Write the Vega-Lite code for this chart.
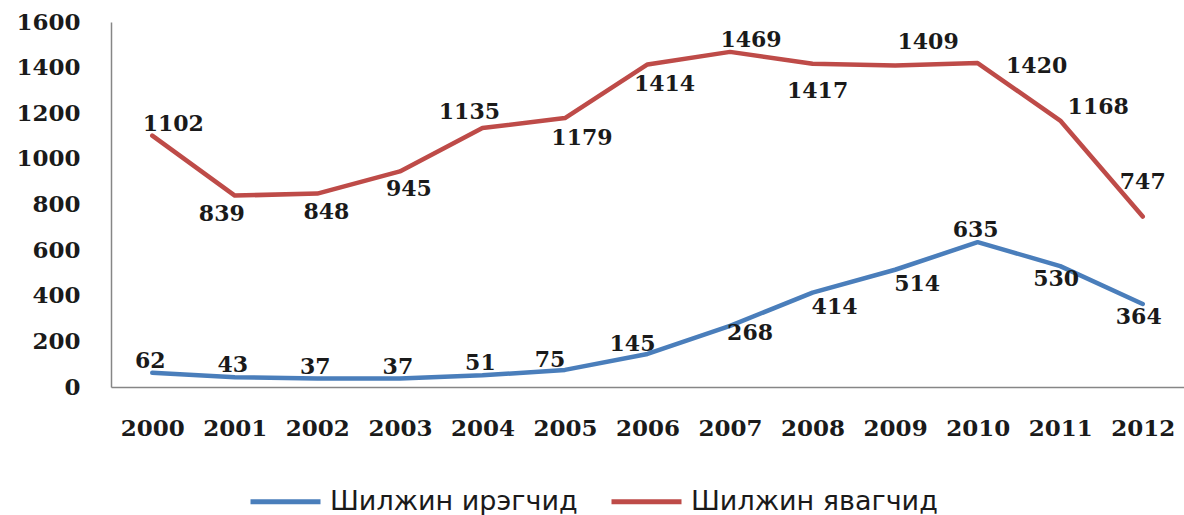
{
  "$schema": "https://vega.github.io/schema/vega-lite/v6.json",
  "autosize": "none",
  "width": 1073,
  "height": 365,
  "padding": {"left": 111, "top": 22, "right": 0, "bottom": 128},
  "background": "white",
  "config": {"view": {"stroke": null}},
  "data": {
    "values": [
      {"year": 2000, "series": "Шилжин ирэгчид", "value": 62},
      {"year": 2001, "series": "Шилжин ирэгчид", "value": 43},
      {"year": 2002, "series": "Шилжин ирэгчид", "value": 37},
      {"year": 2003, "series": "Шилжин ирэгчид", "value": 37},
      {"year": 2004, "series": "Шилжин ирэгчид", "value": 51},
      {"year": 2005, "series": "Шилжин ирэгчид", "value": 75},
      {"year": 2006, "series": "Шилжин ирэгчид", "value": 145},
      {"year": 2007, "series": "Шилжин ирэгчид", "value": 268},
      {"year": 2008, "series": "Шилжин ирэгчид", "value": 414},
      {"year": 2009, "series": "Шилжин ирэгчид", "value": 514},
      {"year": 2010, "series": "Шилжин ирэгчид", "value": 635},
      {"year": 2011, "series": "Шилжин ирэгчид", "value": 530},
      {"year": 2012, "series": "Шилжин ирэгчид", "value": 364},
      {"year": 2000, "series": "Шилжин явагчид", "value": 1102},
      {"year": 2001, "series": "Шилжин явагчид", "value": 839},
      {"year": 2002, "series": "Шилжин явагчид", "value": 848},
      {"year": 2003, "series": "Шилжин явагчид", "value": 945},
      {"year": 2004, "series": "Шилжин явагчид", "value": 1135},
      {"year": 2005, "series": "Шилжин явагчид", "value": 1179},
      {"year": 2006, "series": "Шилжин явагчид", "value": 1414},
      {"year": 2007, "series": "Шилжин явагчид", "value": 1469},
      {"year": 2008, "series": "Шилжин явагчид", "value": 1417},
      {"year": 2009, "series": "Шилжин явагчид", "value": 1409},
      {"year": 2010, "series": "Шилжин явагчид", "value": 1420},
      {"year": 2011, "series": "Шилжин явагчид", "value": 1168},
      {"year": 2012, "series": "Шилжин явагчид", "value": 747}
    ]
  },
  "encoding": {
    "x": {
      "field": "year", "type": "ordinal",
      "scale": {"type": "point", "padding": 0.5},
      "axis": {"title": null, "labelAngle": 0, "ticks": false, "grid": false, "domainColor": "#868686", "domainWidth": 1.5,
               "labelFont": "DejaVu Serif", "labelFontWeight": "bold", "labelFontSize": 23, "labelColor": "#1a1a1a",
               "labelBaseline": "middle", "labelPadding": 41}
    },
    "y": {
      "field": "value", "type": "quantitative",
      "scale": {"domain": [0, 1600], "nice": false},
      "axis": {"title": null, "values": [0, 200, 400, 600, 800, 1000, 1200, 1400, 1600], "format": "d", "ticks": false, "grid": false,
               "domainColor": "#868686", "domainWidth": 1.5,
               "labelFont": "DejaVu Serif", "labelFontWeight": "bold", "labelFontSize": 23, "labelColor": "#1a1a1a",
               "labelPadding": 31}
    }
  },
  "layer": [
    {
      "mark": {"type": "line", "strokeWidth": 4.5, "strokeJoin": "round", "strokeCap": "round"},
      "encoding": {
        "color": {"field": "series", "type": "nominal",
          "scale": {"domain": ["Шилжин ирэгчид", "Шилжин явагчид"], "range": ["#4A7EBB", "#BE4B48"]},
          "legend": {"orient": "none", "legendX": 137, "legendY": 442, "direction": "horizontal", "title": null,
                     "symbolType": "stroke", "symbolSize": 4900, "symbolStrokeWidth": 5,
                     "labelFont": "DejaVu Sans", "labelFontSize": 27, "labelColor": "#1a1a1a", "labelOffset": 7,
                     "columnPadding": 23, "padding": 0, "labelLimit": 0}}
      }
    },
    {
      "transform": [{"filter": {"and": [{"field": "series", "equal": "Шилжин ирэгчид"}, {"field": "year", "oneOf": [2000, 2001, 2002, 2003, 2004, 2010]}]}}],
      "mark": {"type": "text", "dx": -2, "dy": -12, "font": "DejaVu Serif", "fontWeight": "bold", "fontSize": 22, "color": "#1a1a1a"},
      "encoding": {"text": {"field": "value", "type": "nominal"}}
    },
    {
      "transform": [{"filter": {"and": [{"field": "series", "equal": "Шилжин ирэгчид"}, {"field": "year", "oneOf": [2005, 2006]}]}}],
      "mark": {"type": "text", "dx": -15, "dy": -10, "font": "DejaVu Serif", "fontWeight": "bold", "fontSize": 22, "color": "#1a1a1a"},
      "encoding": {"text": {"field": "value", "type": "nominal"}}
    },
    {
      "transform": [{"filter": {"and": [{"field": "series", "equal": "Шилжин ирэгчид"}, {"field": "year", "oneOf": [2007]}]}}],
      "mark": {"type": "text", "dx": 20, "dy": 7, "font": "DejaVu Serif", "fontWeight": "bold", "fontSize": 22, "color": "#1a1a1a"},
      "encoding": {"text": {"field": "value", "type": "nominal"}}
    },
    {
      "transform": [{"filter": {"and": [{"field": "series", "equal": "Шилжин ирэгчид"}, {"field": "year", "oneOf": [2008, 2009]}]}}],
      "mark": {"type": "text", "dx": 22, "dy": 14, "font": "DejaVu Serif", "fontWeight": "bold", "fontSize": 22, "color": "#1a1a1a"},
      "encoding": {"text": {"field": "value", "type": "nominal"}}
    },
    {
      "transform": [{"filter": {"and": [{"field": "series", "equal": "Шилжин ирэгчид"}, {"field": "year", "oneOf": [2011, 2012]}]}}],
      "mark": {"type": "text", "dx": -4, "dy": 13, "font": "DejaVu Serif", "fontWeight": "bold", "fontSize": 22, "color": "#1a1a1a"},
      "encoding": {"text": {"field": "value", "type": "nominal"}}
    },
    {
      "transform": [{"filter": {"and": [{"field": "series", "equal": "Шилжин явагчид"}, {"field": "year", "oneOf": [2000, 2007]}]}}],
      "mark": {"type": "text", "dx": 21, "dy": -12, "font": "DejaVu Serif", "fontWeight": "bold", "fontSize": 22, "color": "#1a1a1a"},
      "encoding": {"text": {"field": "value", "type": "nominal"}}
    },
    {
      "transform": [{"filter": {"and": [{"field": "series", "equal": "Шилжин явагчид"}, {"field": "year", "oneOf": [2001]}]}}],
      "mark": {"type": "text", "dx": -13, "dy": 18, "font": "DejaVu Serif", "fontWeight": "bold", "fontSize": 22, "color": "#1a1a1a"},
      "encoding": {"text": {"field": "value", "type": "nominal"}}
    },
    {
      "transform": [{"filter": {"and": [{"field": "series", "equal": "Шилжин явагчид"}, {"field": "year", "oneOf": [2002, 2003]}]}}],
      "mark": {"type": "text", "dx": 9, "dy": 18, "font": "DejaVu Serif", "fontWeight": "bold", "fontSize": 22, "color": "#1a1a1a"},
      "encoding": {"text": {"field": "value", "type": "nominal"}}
    },
    {
      "transform": [{"filter": {"and": [{"field": "series", "equal": "Шилжин явагчид"}, {"field": "year", "oneOf": [2004]}]}}],
      "mark": {"type": "text", "dx": -13, "dy": -16, "font": "DejaVu Serif", "fontWeight": "bold", "fontSize": 22, "color": "#1a1a1a"},
      "encoding": {"text": {"field": "value", "type": "nominal"}}
    },
    {
      "transform": [{"filter": {"and": [{"field": "series", "equal": "Шилжин явагчид"}, {"field": "year", "oneOf": [2005, 2006]}]}}],
      "mark": {"type": "text", "dx": 17, "dy": 20, "font": "DejaVu Serif", "fontWeight": "bold", "fontSize": 22, "color": "#1a1a1a"},
      "encoding": {"text": {"field": "value", "type": "nominal"}}
    },
    {
      "transform": [{"filter": {"and": [{"field": "series", "equal": "Шилжин явагчид"}, {"field": "year", "oneOf": [2008]}]}}],
      "mark": {"type": "text", "dx": 5, "dy": 27, "font": "DejaVu Serif", "fontWeight": "bold", "fontSize": 22, "color": "#1a1a1a"},
      "encoding": {"text": {"field": "value", "type": "nominal"}}
    },
    {
      "transform": [{"filter": {"and": [{"field": "series", "equal": "Шилжин явагчид"}, {"field": "year", "oneOf": [2009]}]}}],
      "mark": {"type": "text", "dx": 33, "dy": -24, "font": "DejaVu Serif", "fontWeight": "bold", "fontSize": 22, "color": "#1a1a1a"},
      "encoding": {"text": {"field": "value", "type": "nominal"}}
    },
    {
      "transform": [{"filter": {"and": [{"field": "series", "equal": "Шилжин явагчид"}, {"field": "year", "oneOf": [2010]}]}}],
      "mark": {"type": "text", "dx": 59, "dy": 3, "font": "DejaVu Serif", "fontWeight": "bold", "fontSize": 22, "color": "#1a1a1a"},
      "encoding": {"text": {"field": "value", "type": "nominal"}}
    },
    {
      "transform": [{"filter": {"and": [{"field": "series", "equal": "Шилжин явагчид"}, {"field": "year", "oneOf": [2011]}]}}],
      "mark": {"type": "text", "dx": 38, "dy": -14, "font": "DejaVu Serif", "fontWeight": "bold", "fontSize": 22, "color": "#1a1a1a"},
      "encoding": {"text": {"field": "value", "type": "nominal"}}
    },
    {
      "transform": [{"filter": {"and": [{"field": "series", "equal": "Шилжин явагчид"}, {"field": "year", "oneOf": [2012]}]}}],
      "mark": {"type": "text", "dx": 0, "dy": -35, "font": "DejaVu Serif", "fontWeight": "bold", "fontSize": 22, "color": "#1a1a1a"},
      "encoding": {"text": {"field": "value", "type": "nominal"}}
    }
  ]
}
